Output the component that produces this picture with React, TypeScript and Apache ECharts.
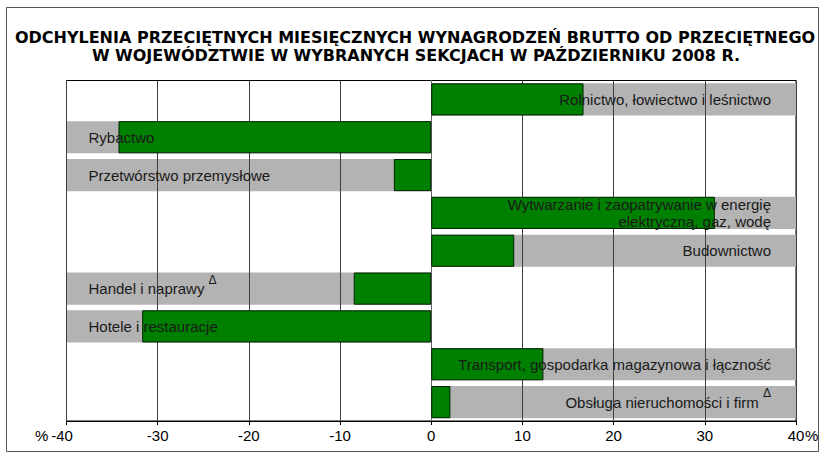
import React, { useEffect, useRef } from "react";
import * as echarts from "echarts";

const titleLines = [
  "ODCHYLENIA PRZECIĘTNYCH MIESIĘCZNYCH WYNAGRODZEŃ BRUTTO OD PRZECIĘTNEGO",
  "W WOJEWÓDZTWIE W WYBRANYCH SEKCJACH W PAŹDZIERNIKU 2008 R.",
];

const categories = [
  "Rolnictwo, łowiectwo i leśnictwo",
  "Rybactwo",
  "Przetwórstwo przemysłowe",
  "Wytwarzanie i zaopatrywanie w energię\nelektryczną, gaz, wodę",
  "Budownictwo",
  "Handel i naprawy",
  "Hotele i restauracje",
  "Transport, gospodarka magazynowa i łączność",
  "Obsługa nieruchomości i firm",
];

const values = [16.7, -34.3, -4.1, 31.1, 9.1, -8.5, -31.7, 12.3, 2.1];

const footnoteMarks = [false, false, false, false, false, true, false, false, true];

const axisMin = -40;
const axisMax = 40;
const axisInterval = 10;

const FONT = "'Liberation Sans', Arial, sans-serif";
const TITLE_FONT = "'DejaVu Sans', 'Liberation Sans', Arial, sans-serif";

export default function App() {
  const ref = useRef<HTMLDivElement>(null);

  useEffect(() => {
    document.body.style.margin = "0";
    if (!ref.current) return;
    const chart = echarts.init(ref.current, null, { renderer: "svg" });

    const bandData = values.map((v) => (v >= 0 ? axisMax : axisMin));

    const labelData = values.map((v, i) => ({
      value: v >= 0 ? axisMax : axisMin,
      label: {
        show: true,
        position: v >= 0 ? "insideRight" : "insideLeft",
        distance: v >= 0 ? 25 : 22,
        align: v >= 0 ? "right" : "left",
        formatter: () =>
          footnoteMarks[i] ? categories[i] + " {sup|Δ}" : categories[i],
      },
    }));

    chart.setOption({
      animation: false,
      textStyle: { fontFamily: FONT },
      grid: {
        left: 66.5,
        right: 29,
        top: 80.5,
        bottom: 36,
        show: true,
        borderColor: "#000",
        borderWidth: 1,
        backgroundColor: "transparent",
      },
      xAxis: {
        type: "value",
        min: axisMin,
        max: axisMax,
        interval: axisInterval,
        z: 1,
        axisLine: { show: true, lineStyle: { color: "#000", width: 1 } },
        axisTick: { show: true, length: 4, lineStyle: { color: "#000" } },
        splitLine: { show: true, lineStyle: { color: "#404040", width: 1 } },
        axisLabel: {
          fontFamily: FONT,
          fontSize: 15,
          color: "#000",
          margin: 7,
          formatter: (v: number) => (v === axisMin ? "{l|" + v + "}" : String(v)),
          rich: {
            l: { fontFamily: FONT, fontSize: 15, color: "#000", padding: [0, 9, 0, 0] },
          },
        },
      },
      yAxis: {
        type: "category",
        data: categories,
        inverse: true,
        z: 1,
        axisLine: { show: true, onZero: true, lineStyle: { color: "#666", width: 1 } },
        axisTick: { show: false },
        axisLabel: { show: false },
        splitLine: { show: false },
      },
      series: [
        {
          type: "bar",
          name: "band",
          data: bandData,
          barWidth: "85%",
          barGap: "-100%",
          z: 0,
          itemStyle: { color: "#b3b3b3" },
          silent: true,
        },
        {
          type: "bar",
          name: "values",
          data: values,
          barWidth: "85%",
          barGap: "-100%",
          z: 2,
          itemStyle: { color: "#008000", borderColor: "#002200", borderWidth: 1 },
        },
        {
          type: "bar",
          name: "labels",
          data: labelData,
          barWidth: "85%",
          barGap: "-100%",
          z: 3,
          itemStyle: { color: "transparent" },
          silent: true,
          label: {
            fontFamily: FONT,
            fontSize: 15,
            color: "#1a1a1a",
            lineHeight: 17,
            rich: {
              sup: {
                fontFamily: FONT,
                fontSize: 12,
                color: "#1a1a1a",
                lineHeight: 12,
                padding: [0, 0, 18, 0],
              },
            },
          },
        },
      ],
      graphic: [
        {
          type: "rect",
          shape: { x: 6.5, y: 7.5, width: 812, height: 444 },
          style: { fill: "none", stroke: "#555", lineWidth: 1 },
          silent: true,
        },
        {
          type: "text",
          x: 415,
          y: 37,
          style: {
            text: titleLines[0],
            fontFamily: TITLE_FONT,
            fontSize: 16,
            fontWeight: "bold",
            fill: "#000",
            align: "center",
            verticalAlign: "middle",
          },
        },
        {
          type: "text",
          x: 416,
          y: 55,
          style: {
            text: titleLines[1],
            fontFamily: TITLE_FONT,
            fontSize: 16,
            fontWeight: "bold",
            fill: "#000",
            align: "center",
            verticalAlign: "middle",
          },
        },
        {
          type: "text",
          x: 35,
          y: 435,
          style: {
            text: "%",
            fontFamily: FONT,
            fontSize: 15,
            fill: "#000",
            verticalAlign: "middle",
            align: "left",
          },
        },
        {
          type: "text",
          x: 805,
          y: 435,
          style: {
            text: "%",
            fontFamily: FONT,
            fontSize: 15,
            fill: "#000",
            verticalAlign: "middle",
            align: "left",
          },
        },
      ],
    });

    return () => chart.dispose();
  }, []);

  return <div ref={ref} style={{ width: 825, height: 457 }} />;
}
